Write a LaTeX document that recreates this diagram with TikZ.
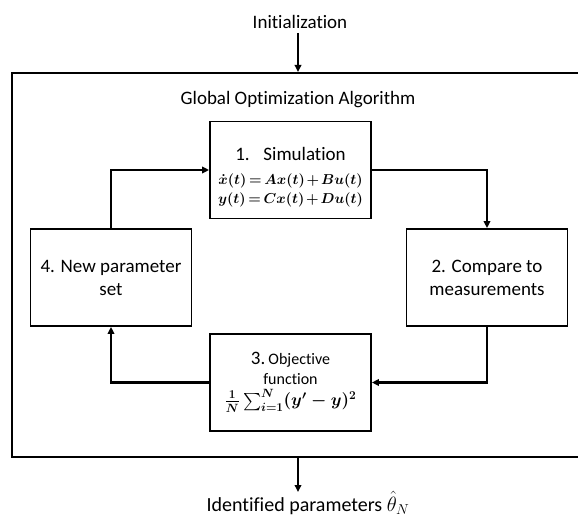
\documentclass[tikz,border=0pt]{standalone}
\usepackage{fontspec}
\setmainfont{Carlito}[Ligatures=NoCommon]
\usepackage{amsmath}
\usetikzlibrary{arrows.meta,positioning}
\newcommand{\eqfont}{\fontsize{15.5bp}{18bp}\selectfont\boldmath\thickmuskip=3mu\medmuskip=2mu}
\tikzset{
  stepbox/.style={draw,line width=1.8bp,minimum width=161bp,minimum height=97bp,inner sep=0pt,align=center,font=\fontsize{19bp}{23bp}\selectfont},
  flow/.style={line width=2.6bp,-{Triangle[length=7bp,width=6.5bp]}},
  lbl/.style={font=\fontsize{19bp}{23bp}\selectfont,inner sep=0pt}
}
\begin{document}
\begin{tikzpicture}[x=1bp,y=-1bp]
\useasboundingbox (0,0) rectangle (578,516);
\clip (0,0) rectangle (578,516);
\node[draw,line width=2.6bp,minimum width=590bp,minimum height=384bp,inner sep=0pt] (outer) at (307,265) {};
\node[lbl] (init) at (300,22) {Initialization};
\node[lbl] (goa) at (298,100) {Global Optimization Algorithm};
\node[stepbox] (b1) at (290.5,170) {};
\node[lbl,align=center] (b1t) at (290.5,177) {1.\enspace\ Simulation\\[1bp]
  {\eqfont$\dot{x}(t)=Ax(t)+Bu(t)$}\\[-4bp]
  {\eqfont$y(t)=Cx(t)+Du(t)$}};
\node[stepbox] (b4) at (111,277.5) {4. New parameter\\set};
\node[stepbox] (b2) at (487,277.5) {2. Compare to\\measurements};
\node[stepbox] (b3) at (290.5,382.5) {3.\,{\fontsize{16bp}{20bp}\selectfont Objective}\\[-3bp]
  {\fontsize{16bp}{20bp}\selectfont function}\\[-2bp]
  {\fontsize{16.5bp}{18bp}\selectfont\boldmath$\frac{1}{N}\sum_{i=1}^{N}(y'-y)^2$}};
\node[lbl,font=\fontsize{20bp}{23bp}\selectfont] (res) at (308,503) {Identified parameters $\hat{\theta}_N$};
\coordinate (resin) at (298,492);
\draw[flow] (init.south -| 298,0) ++(0,4) -- (298,72);
\draw[flow] (b4.north) |- (b1.west);
\draw[flow] (b1.east) -| (b2.north);
\draw[flow] (b2.south) |- (b3.east);
\draw[flow] (b3.west) -| (b4.south);
\draw[flow] (outer.south -| resin) -- (resin);
\end{tikzpicture}
\end{document}
